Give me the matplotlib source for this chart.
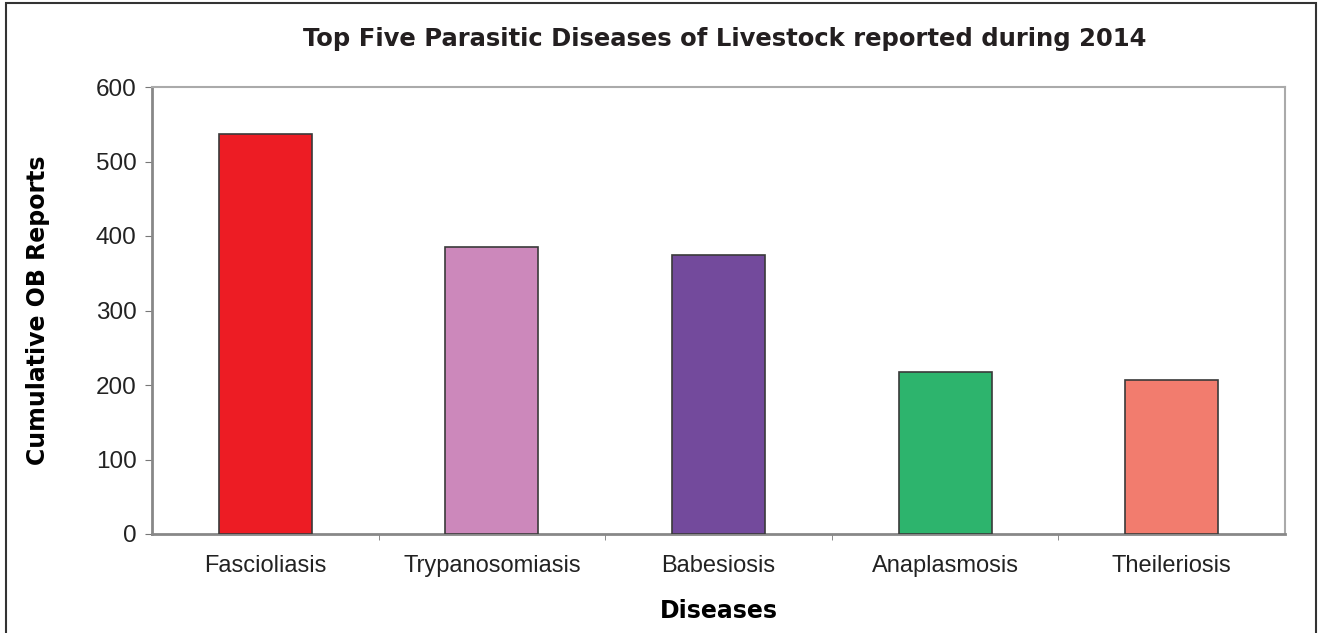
import numpy as np
import matplotlib.pyplot as plt
from matplotlib.patches import Rectangle

diseases = ['Fascioliasis', 'Trypanosomiasis', 'Babesiosis', 'Anaplasmosis', 'Theileriosis']
reports = [537, 385, 375, 217, 207]
bar_colors = ['#ED1C24', '#CC88BB', '#734A9C', '#2DB46D', '#F27C6E']
yticks = [0, 100, 200, 300, 400, 500, 600]

if __name__ == '__main__':
    fig = plt.figure(figsize=(13.23, 6.33), dpi=100)
    ax = fig.add_axes([152 / 1323, 1 - 534 / 633, 1133 / 1323, 447 / 633])

    x = np.arange(len(diseases))
    ax.bar(x, reports, width=0.41, color=bar_colors, edgecolor='#3a3a3a', linewidth=1.2, zorder=3)

    ax.set_xlim(-0.5, len(diseases) - 0.5)
    ax.set_ylim(0, 600)
    ax.set_yticks(yticks)
    ax.set_yticklabels([str(v) for v in yticks], fontsize=17.5, family='Liberation Sans', color='#222222')
    ax.set_xticks(x)
    ax.set_xticklabels(diseases, fontsize=17, family='Liberation Sans', color='#222222')
    ax.set_xticks(np.arange(0.5, len(diseases) - 0.5), minor=True)
    ax.tick_params(axis='x', which='major', length=0, pad=15)
    ax.tick_params(axis='x', which='minor', length=4, color='#777777', direction='out')
    ax.tick_params(axis='y', length=5, color='#777777', direction='out', pad=6)

    for side in ['left', 'bottom']:
        ax.spines[side].set_color('#888888')
        ax.spines[side].set_linewidth(2)
    for side in ['top', 'right']:
        ax.spines[side].set_color('#aaaaaa')
        ax.spines[side].set_linewidth(1.5)

    ax.set_ylabel('Cumulative OB Reports', fontsize=17, fontweight='bold', labelpad=33)
    ax.set_xlabel('Diseases', fontsize=17, fontweight='bold', labelpad=16)
    fig.text(0.548, 0.938, 'Top Five Parasitic Diseases of Livestock reported during 2014',
             ha='center', va='center', fontsize=17.5, fontweight='bold', color='#231f20')

    # outer frame
    fig.patches.append(Rectangle((6 / 1323, -0.1), 1316 / 1323 - 6 / 1323, 1.1 - 3 / 633,
                                 transform=fig.transFigure, fill=False, edgecolor='#333333',
                                 linewidth=1.5))

    fig.savefig('out.png', dpi=100)
